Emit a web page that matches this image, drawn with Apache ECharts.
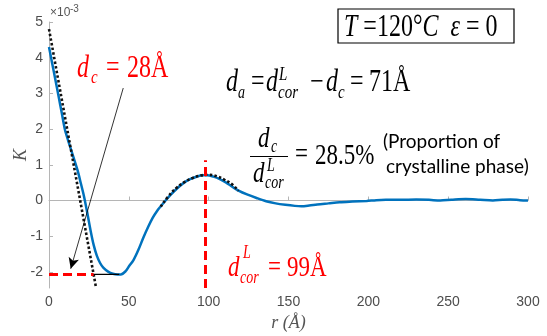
<!DOCTYPE html>
<html>
<head>
<meta charset="utf-8">
<script src="https://cdn.jsdelivr.net/npm/echarts@6/dist/echarts.min.js"></script>
<style>
  html, body { margin: 0; padding: 0; background: #fff; }
  #main { width: 547px; height: 336px; }
</style>
</head>
<body>
<div id="main"></div>
<script>
// K(r) correlation curve, K in units of 1e-3, r in Angstrom
var rVals = [0, 2, 4, 6, 8, 10, 12, 14, 16, 18, 20, 22, 24, 26, 28, 30, 32, 34, 37, 40,
  43, 45, 48, 50, 53, 56, 59, 62, 65, 68, 70, 73, 76, 80, 84, 88, 92, 96, 99, 103,
  107, 111, 115, 119, 124, 130, 136, 142, 148, 154, 158, 163, 168, 175, 182, 190, 199, 205, 211, 220,
  230, 238, 245, 252, 261, 270, 278, 284, 289, 295, 300];
var kVals = [4.3, 3.84, 3.38, 2.92, 2.45, 1.98, 1.68, 1.4, 1.12, 0.83, 0.47, 0.1, -0.35, -0.83, -1.25, -1.55, -1.75, -1.88, -1.99, -2.05,
  -2.07, -2.07, -1.98, -1.85, -1.66, -1.38, -1.05, -0.75, -0.48, -0.27, -0.16, 0.0, 0.15, 0.33, 0.48, 0.59, 0.66, 0.71, 0.71, 0.67,
  0.6, 0.5, 0.38, 0.27, 0.17, 0.07, -0.02, -0.08, -0.12, -0.15, -0.16, -0.14, -0.11, -0.08, -0.05, -0.03, -0.01, 0.01, 0.02, 0.02,
  0.03, 0.02, 0.0, 0.02, 0.04, 0.02, 0.0, 0.02, 0.03, 0.01, 0.0];

// straight fit of the initial slope (dotted)
var fitLowR = [0, 29.5];
var fitLowK = [4.8, -2.45];

// fit around the first maximum (dotted)
var fitPeakR = [70, 75, 80, 85, 90, 95, 100, 105, 110, 115, 118.5];
var fitPeakK = [-0.17, 0.13, 0.36, 0.52, 0.63, 0.7, 0.72, 0.68, 0.58, 0.44, 0.27];

// markers
var dC = 28;        // crossing of the fit with the minimum
var rMin = 44;      // position of the minimum
var kMin = -2.07;
var dCorLine = 98;  // first maximum
var kPeakTop = 1.13;
var arrowFrom = [46.5, 3.15];
var arrowTo = [13.6, -1.91];

var yTicks = [-2, -1, 0, 1, 2, 3, 4, 5];

function zip(a, b) {
  var out = [];
  for (var i = 0; i < a.length; i++) out.push([a[i], b[i]]);
  return out;
}

var SERIF = '"Liberation Serif", "Times New Roman", serif';
var STRETCH = 1.28;

// one text piece placed by its baseline
function piece(s, x, base, size, italic, color) {
  return {
    type: 'text', x: x, y: base - 0.3 * size,
    originY: 0.3 * size, scaleY: STRETCH, silent: true,
    style: {
      text: s, fontFamily: SERIF, fontSize: size,
      fontStyle: italic ? 'italic' : 'normal',
      fill: color, verticalAlign: 'middle', align: 'left'
    }
  };
}

var RED = '#ff0000';
var BLK = '#000000';

var labels = [
  // d_c = 28Å
  piece('d', 77, 78, 24, true, RED),
  piece('c', 91, 84, 15, true, RED),
  piece('=', 106, 78, 24, false, RED),
  piece('28Å', 127, 78, 24, false, RED),
  // d_a = d_cor^L - d_c = 71Å
  piece('d', 226, 92, 24, true, BLK),
  piece('a', 238, 99, 14, true, BLK),
  piece('=', 251, 92, 24, false, BLK),
  piece('d', 266, 92, 24, true, BLK),
  piece('L', 279, 81, 15, true, BLK),
  piece('cor', 278, 99, 15, true, BLK),
  piece('\u2212', 310, 92, 24, false, BLK),
  piece('d', 326, 92, 24, true, BLK),
  piece('c', 338, 99, 15, true, BLK),
  piece('=', 350, 92, 24, false, BLK),
  piece('71Å', 369, 92, 24, false, BLK),
  // fraction d_c / d_cor^L = 28.5%
  piece('d', 258, 148, 23, true, BLK),
  piece('c', 271, 153, 14, true, BLK),
  piece('d', 253, 183, 23, true, BLK),
  piece('L', 267, 172, 14, true, BLK),
  piece('cor', 265, 189, 14, true, BLK),
  piece('=', 295, 164, 23, false, BLK),
  piece('28.5%', 315, 165, 23, false, BLK),
  // d_cor^L = 99Å
  piece('d', 228, 277, 23, true, RED),
  piece('L', 243, 259, 14, true, RED),
  piece('cor', 240, 284, 14, true, RED),
  piece('=', 268, 277, 23, false, RED),
  piece('99Å', 287, 277, 23, false, RED),
  // T = 120°C  ε = 0
  {
    type: 'text', x: 344, y: 28, originY: 0, scaleY: STRETCH, silent: true,
    style: {
      text: '{i|T} =120°{i|C}  {i|\u03b5} = 0',
      fontFamily: SERIF, fontSize: 24, fill: BLK, verticalAlign: 'middle',
      rich: {
        i: { fontFamily: SERIF, fontSize: 24, fontStyle: 'italic', fill: BLK }
      }
    }
  },
  // side note
  {
    type: 'text', x: 383, y: 151, silent: true,
    style: { text: '(Proportion of', fontFamily: 'Lato', fontSize: 19, fill: BLK, verticalAlign: 'bottom' }
  },
  {
    type: 'text', x: 386, y: 176, silent: true,
    style: { text: 'crystalline phase)', fontFamily: 'Lato', fontSize: 19, fill: BLK, verticalAlign: 'bottom' }
  },
  // y axis title
  {
    type: 'text', x: 21, y: 155, rotation: Math.PI / 2, silent: true,
    style: {
      text: 'K', fontFamily: SERIF, fontStyle: 'italic', fontSize: 18, fill: '#555',
      align: 'center', verticalAlign: 'middle'
    }
  }
];

var option = {
  animation: false,
  backgroundColor: '#fff',
  grid: { left: 49, right: 19, top: 22, bottom: 48, containLabel: false, outerBoundsMode: 'none' },
  xAxis: {
    type: 'value', min: 0, max: 300, interval: 50,
    name: 'r (Å)', nameLocation: 'middle', nameGap: 24,
    nameTextStyle: { fontFamily: SERIF, fontStyle: 'italic', fontSize: 18, color: '#555' },
    axisLine: { lineStyle: { color: '#b5b5b5', width: 1 } },
    axisTick: { inside: true, length: 4, lineStyle: { color: '#b5b5b5' } },
    axisLabel: { color: '#4d4d4d', fontFamily: 'Liberation Sans', fontSize: 14, margin: 7 },
    splitLine: { show: false }
  },
  yAxis: {
    type: 'value', min: -2.45, max: 5,
    axisLine: { show: true, lineStyle: { color: '#b5b5b5', width: 1 } },
    axisTick: { show: true, inside: true, length: 4, customValues: yTicks, lineStyle: { color: '#b5b5b5' } },
    axisLabel: { color: '#4d4d4d', fontFamily: 'Liberation Sans', fontSize: 14, margin: 6, customValues: yTicks },
    splitLine: { show: false }
  },
  graphic: [
    {
      type: 'text', x: 50, y: 19, silent: true,
      style: { text: '×10', fontFamily: 'Liberation Sans', fontSize: 12, fill: '#555', verticalAlign: 'bottom' }
    },
    {
      type: 'text', x: 70, y: 14, silent: true,
      style: { text: '-3', fontFamily: 'Liberation Sans', fontSize: 10, fill: '#555', verticalAlign: 'bottom' }
    },
    {
      type: 'rect', silent: true,
      shape: { x: 338, y: 9, width: 176, height: 34 },
      style: { fill: 'none', stroke: BLK, lineWidth: 1.2 }
    },
    {
      type: 'line', silent: true,
      shape: { x1: 250, y1: 156.5, x2: 288, y2: 156.5 },
      style: { stroke: BLK, lineWidth: 1 }
    }
  ].concat(labels),
  series: [
    {
      name: 'K', type: 'line', data: zip(rVals, kVals),
      showSymbol: false, smooth: 0.3, z: 2,
      lineStyle: { color: '#0072bd', width: 2.5 }
    },
    {
      name: 'fit0', type: 'line', data: zip(fitLowR, fitLowK),
      showSymbol: false, z: 3,
      lineStyle: { color: '#111', width: 2.6, type: [2.5, 2.2] }
    },
    {
      name: 'fitPeak', type: 'line', data: zip(fitPeakR, fitPeakK),
      showSymbol: false, smooth: true, z: 3,
      lineStyle: { color: '#111', width: 2.6, type: [2.5, 2.2] }
    },
    {
      name: 'dcDash', type: 'line', data: [[0, kMin], [dC, kMin]],
      showSymbol: false, z: 4,
      lineStyle: { color: RED, width: 3, type: [9, 5] }
    },
    {
      name: 'minLine', type: 'line', data: [[dC, kMin], [rMin, kMin]],
      showSymbol: false, z: 4,
      lineStyle: { color: BLK, width: 1.2 }
    },
    {
      name: 'dcorDash', type: 'line', data: [[dCorLine, -2.45], [dCorLine, kPeakTop]],
      showSymbol: false, z: 4,
      lineStyle: { color: RED, width: 3, type: [9, 5] }
    },
    {
      name: 'arrow', type: 'line', data: [], z: 5,
      markLine: {
        silent: true, symbol: ['none', 'arrow'], symbolSize: [8, 11],
        label: { show: false },
        lineStyle: { color: BLK, width: 0.8, type: 'solid' },
        data: [[{ coord: arrowFrom }, { coord: arrowTo }]]
      }
    }
  ]
};

var chart = echarts.init(document.getElementById('main'), null, { renderer: 'canvas' });
chart.setOption(option);
</script>
</body>
</html>
